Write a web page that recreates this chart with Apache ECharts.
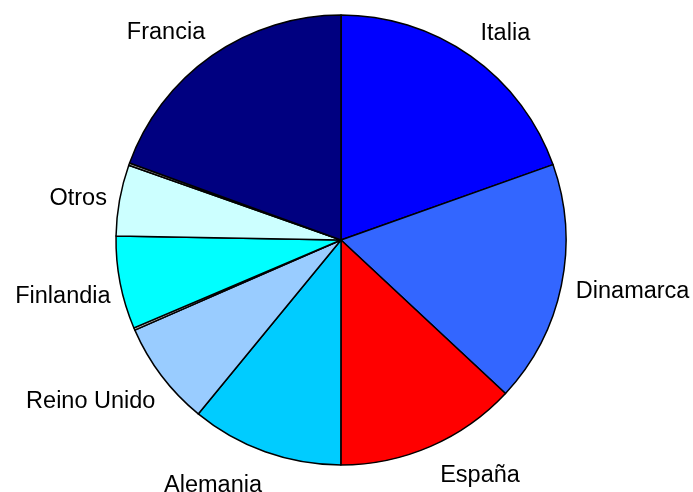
<!DOCTYPE html>
<html lang="es">
<head>
    <meta charset="UTF-8">
    <title>Pie</title>
    <script src="https://cdn.jsdelivr.net/npm/echarts@6.0.0/dist/echarts.min.js"></script>
    <style>
        html, body { margin: 0; padding: 0; background: #fff; }
        #chart { width: 693px; height: 492px; }
    </style>
</head>
<body>
    <div id="chart"></div>
    <script>
        // datos (porcentaje aprox.)
        const names = ['Italia', 'Dinamarca', 'España', 'Alemania', 'Reino Unido', '', 'Finlandia', 'Otros', '', 'Francia'];
        const values = [19.56, 17.39, 13.06, 10.93, 7.5, 0.17, 6.67, 5.11, 0.17, 19.44];
        const colors = ['#0000ff', '#3366ff', '#ff0000', '#00ccff', '#99ccff', '#b0b0b0', '#00ffff', '#ccffff', '#b0b0b0', '#000080'];

        // ajuste fino de la posición de las etiquetas (px)
        const labelShift = [[-4, -3], [-9, 1], [0, 7], [5, 11], [13, 11], [0, 0], [14, 9], [11, 3], [0, 0], [7, -3]];

        const chart = echarts.init(document.getElementById('chart'));

        const data = values.map((v, i) => ({
            name: names[i] || ('x' + i),
            value: v,
            itemStyle: { color: colors[i] },
            label: { show: names[i] !== '' }
        }));

        chart.setOption({
            animation: false,
            series: [{
                type: 'pie',
                center: [341, 240],
                radius: 225,
                startAngle: 90,
                clockwise: true,
                avoidLabelOverlap: false,
                minAngle: 0,
                data: data,
                itemStyle: { borderColor: '#000', borderWidth: 1.5 },
                label: {
                    position: 'outside',
                    fontFamily: 'Liberation Sans, Arial, sans-serif',
                    fontSize: 23.5,
                    color: '#000',
                    distanceToLabelLine: 0
                },
                labelLine: { show: false, length: 24, length2: 0 },
                labelLayout: function (p) {
                    const s = labelShift[p.dataIndex];
                    return { dx: s[0], dy: s[1] };
                },
                emphasis: { disabled: true }
            }]
        });
    </script>
</body>
</html>
